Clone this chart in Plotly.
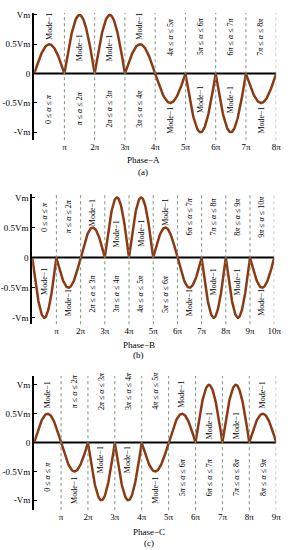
import numpy as np
import plotly.graph_objects as go

# ---- data ----
amp_a = [0.5, 1, 1, 0.5, -0.5, -1, -1, -0.5]
amp_b = [-1, -0.5, 0.5, 1, 1, 0.5, -0.5, -1, -1, -0.5]
amp_c = [0.5, -0.5, -1, -1, -0.5, 0.5, 1, 1, 0.5]
ytick_vals = [-1, -0.5, 0, 0.5, 1]
ytick_text = ["-Vm", "-0.5Vm", "0", "0.5Vm", "Vm"]
mode_label = "Mode−1"
phase_titles = ["Phase−A", "Phase−B", "Phase−C"]
sub_titles = ["(a)", "(b)", "(c)"]

W, H = 291, 550
FONT = "Liberation Serif"
CURVE = "#8a3a14"
DOT = "#7d927d"

def pix_x(p):
    return p / W

def pix_y(p):
    return 1 - p / H

def pi_lbl(k):
    return "π" if k == 1 else f"{k}π"

def range_lbl(k):
    lo = "0" if k == 0 else ("<i>π</i>" if k == 1 else f"{k}<i>π</i>")
    hi = "<i>π</i>" if k + 1 == 1 else f"{k+1}<i>π</i>"
    return f"{lo} ≤ <i>α</i> ≤ {hi}"

panels = [
    dict(amp=amp_a, xpx=(35, 283), ypx=(10, 138), zero=71, unit=59,
         mode_y={0.5: 0.8, 1: 0.44}, rng_y={"above": 0.63, "below": 0.6},
         title_y=158, sub_y=170, title_x=147),
    dict(amp=amp_b, xpx=(33, 281), ypx=(192, 323), zero=256, unit=60.5,
         mode_y={0.5: 0.75, 1: 0.4}, rng_y={"above": 0.68, "below": 0.6},
         title_y=344, sub_y=354, title_x=142),
    dict(amp=amp_c, xpx=(35, 283), ypx=(375, 510), zero=442, unit=58,
         mode_y={0.5: 0.83, 1: 0.3}, rng_y={"above": 0.9, "below": 0.6},
         title_y=532, sub_y=543, title_x=153),
]

fig = go.Figure()
annotations = []
shapes = []

for i, p in enumerate(panels):
    n = len(p["amp"])
    sfx = "" if i == 0 else str(i + 1)
    xa, ya = "x" + sfx, "y" + sfx
    # curve
    xs, ys = [], []
    for k, a in enumerate(p["amp"]):
        t = np.linspace(k * np.pi, (k + 1) * np.pi, 60)
        xs.extend(t.tolist())
        ys.extend((a * np.abs(np.sin(t))).tolist())
    # zero line
    fig.add_trace(go.Scatter(x=[0, n * np.pi], y=[0, 0], mode="lines",
                             line=dict(color="black", width=2),
                             xaxis=xa, yaxis=ya, showlegend=False, hoverinfo="skip"))
    fig.add_trace(go.Scatter(x=xs, y=ys, mode="lines",
                             line=dict(color=CURVE, width=2.5),
                             xaxis=xa, yaxis=ya, showlegend=False))
    # dotted verticals
    for k in range(1, n + 1):
        shapes.append(dict(type="line", xref=xa, yref=ya + " domain",
                           x0=k * np.pi, x1=k * np.pi, y0=0, y1=1,
                           line=dict(color=DOT, width=1, dash="dot")))
    # labels
    for k, a in enumerate(p["amp"]):
        s = 1 if a > 0 else -1
        xc = (k + 0.5) * np.pi
        my = s * p["mode_y"][abs(a)]
        ry = -s * (p["rng_y"]["below"] if s > 0 else p["rng_y"]["above"])
        for txt, yy in ((mode_label, my), (range_lbl(k), ry)):
            annotations.append(dict(x=xc, y=yy, xref=xa, yref=ya, text=txt,
                                    textangle=-90, showarrow=False,
                                    xanchor="center", yanchor="middle",
                                    font=dict(family=FONT, size=8, color="black")))
    # axes
    top = (p["zero"] - p["ypx"][0]) / p["unit"]
    bot = -(p["ypx"][1] - p["zero"]) / p["unit"]
    xdom = [pix_x(p["xpx"][0]), pix_x(p["xpx"][1])]
    ydom = [pix_y(p["ypx"][1]), pix_y(p["ypx"][0])]
    fig.update_layout(**{
        ("xaxis" + sfx): dict(domain=xdom, range=[0, n * np.pi], anchor=ya,
                              showgrid=False, zeroline=False, showline=False,
                              tickvals=[k * np.pi for k in range(1, n + 1)],
                              ticktext=[pi_lbl(k) for k in range(1, n + 1)],
                              ticks="", tickfont=dict(family=FONT, size=9, color="black")),
        ("yaxis" + sfx): dict(domain=ydom, range=[bot, top], anchor=xa,
                              showgrid=False, zeroline=False, showline=True,
                              linecolor="black", linewidth=2,
                              tickvals=ytick_vals, ticktext=ytick_text,
                              ticks="inside", ticklen=3, tickcolor="black",
                              tickfont=dict(family=FONT, size=9, color="black")),
    })
    annotations.append(dict(x=pix_x(p["title_x"]), y=pix_y(p["title_y"]), xref="paper", yref="paper",
                            text=phase_titles[i], showarrow=False, xanchor="center", yanchor="middle",
                            font=dict(family=FONT, size=9, color="black")))
    annotations.append(dict(x=pix_x(p["title_x"]), y=pix_y(p["sub_y"]), xref="paper", yref="paper",
                            text=sub_titles[i], showarrow=False, xanchor="center", yanchor="middle",
                            font=dict(family=FONT, size=9, color="black")))

fig.update_layout(width=W, height=H, margin=dict(l=0, r=0, t=0, b=0),
                  paper_bgcolor="white", plot_bgcolor="white",
                  annotations=annotations, shapes=shapes,
                  font=dict(family=FONT, size=9, color="black"))
fig.write_html("out.html", config={"displayModeBar": False},
               post_script="document.body.style.margin='0px';document.body.style.overflow='hidden';")
